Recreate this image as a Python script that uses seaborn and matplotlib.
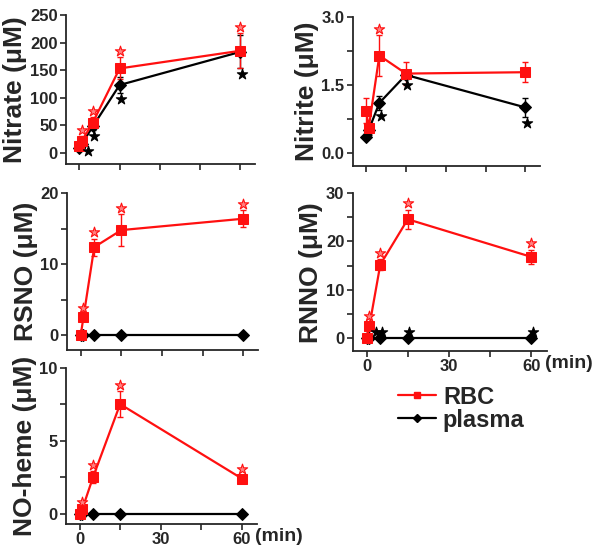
import numpy as np
import pandas as pd
import matplotlib
matplotlib.use('Agg')
import matplotlib.pyplot as plt
from matplotlib.lines import Line2D
import seaborn as sns

# sampling times (min)
time_min = [0, 1, 5, 15, 60]

# Nitrate (uM)
nitrate_rbc = [12, 22, 55, 153, 185]
nitrate_rbc_err = [4, 8, 10, 20, 32]
nitrate_plasma = [8, 17, 48, 123, 183]
nitrate_plasma_err = [3, 3, 6, 15, 30]
nitrate_rbc_sig = [0, 1, 1, 1, 1]
nitrate_plasma_sig = [0, 1, 1, 1, 1]

# Nitrite (uM)
nitrite_rbc = [0.93, 0.55, 2.15, 1.75, 1.78]
nitrite_rbc_err = [0.28, 0.12, 0.45, 0.25, 0.22]
nitrite_plasma = [0.35, 0.50, 1.10, 1.72, 1.00]
nitrite_plasma_err = [0.05, 0.10, 0.15, 0.10, 0.22]
nitrite_rbc_sig = [0, 0, 1, 0, 0]
nitrite_plasma_sig = [0, 0, 1, 1, 1]

# RSNO (uM)
rsno_rbc = [0, 2.5, 12.4, 14.8, 16.4]
rsno_rbc_err = [0.2, 0.5, 1.2, 2.2, 1.2]
rsno_plasma = [0, 0, 0, 0, 0]
rsno_plasma_err = [0, 0, 0, 0, 0]
rsno_rbc_sig = [0, 1, 1, 1, 1]
rsno_plasma_sig = [0, 0, 0, 0, 0]

# RNNO (uM)
rnno_rbc = [0, 2.4, 15.2, 24.6, 16.8]
rnno_rbc_err = [0.3, 0.8, 1.2, 2.0, 1.5]
rnno_plasma = [0, 0, 0, 0, 0]
rnno_plasma_err = [0, 0, 0, 0, 0]
rnno_rbc_sig = [0, 1, 1, 1, 1]
rnno_plasma_sig = [0, 1, 1, 1, 1]

# NO-heme (uM)
noheme_rbc = [0, 0.3, 2.5, 7.5, 2.4]
noheme_rbc_err = [0.05, 0.1, 0.4, 0.9, 0.2]
noheme_plasma = [0, 0, 0, 0, 0]
noheme_plasma_err = [0, 0, 0, 0, 0]
noheme_rbc_sig = [0, 1, 1, 1, 1]
noheme_plasma_sig = [0, 0, 0, 0, 0]

RED = '#ff1010'
BLACK = '#000000'

sns.set_theme(style='ticks')
plt.rcParams['font.family'] = ['Liberation Sans', 'DejaVu Sans']
plt.rcParams['axes.linewidth'] = 1.3


def draw_series(ax, vals, errs, color, marker, msize):
    df = pd.DataFrame({'time': time_min, 'value': vals})
    ax.errorbar(time_min, vals, yerr=errs, fmt='none', ecolor=color,
                elinewidth=1.0, capsize=2.5, capthick=1.0, zorder=2)
    sns.lineplot(data=df, x='time', y='value', color=color, marker=marker,
                 markersize=msize, markeredgecolor=color, markerfacecolor=color,
                 linewidth=1.6, ax=ax, zorder=3)


def draw_stars(ax, vals, errs, sig, side, color, face, pad, shift):
    xs, ys = [], []
    for t, v, e, s in zip(time_min, vals, errs, sig):
        if s:
            dx = 0
            if shift:
                dx = 2.3 if t < 3 else 0.6
            xs.append(t + dx)
            ys.append(v + side * (e + pad))
    ax.scatter(xs, ys, marker='*', s=60, facecolor=face, edgecolor=color,
               linewidth=0.8, zorder=4)


def panel(rect, rbc, rbc_err, plasma, plasma_err, rbc_sig, pl_sig, pl_side,
          ylim, yticks, ylabels, ylabel, show_x):
    ax = fig.add_axes(rect)
    draw_series(ax, plasma, plasma_err, BLACK, 'D', 6)
    draw_series(ax, rbc, rbc_err, RED, 's', 6.5)
    pad = 0.04 * (ylim[1] - ylim[0])
    draw_stars(ax, rbc, rbc_err, rbc_sig, 1, RED, '#ff8080', pad, False)
    draw_stars(ax, plasma, plasma_err, pl_sig, pl_side, BLACK, BLACK, pad, True)
    ax.set_xlim(-5, 65.5)
    ax.set_ylim(*ylim)
    ax.set_xticks([0, 15, 30, 45, 60])
    if show_x:
        ax.set_xticklabels(['0', '', '30', '', '60'])
    else:
        ax.set_xticklabels([])
    ax.set_yticks(yticks)
    ax.set_yticklabels(ylabels)
    ax.tick_params(direction='out', length=4, width=1.2, labelsize=12, pad=2)
    for lab in ax.get_xticklabels() + ax.get_yticklabels():
        lab.set_fontweight('bold')
    ax.set_xlabel('')
    ax.set_ylabel(ylabel, fontsize=19, fontweight='bold', labelpad=2)
    sns.despine(ax=ax)
    return ax


fig = plt.figure(figsize=(6, 5.52), dpi=100)

panel([0.110, 0.703, 0.315, 0.270], nitrate_rbc, nitrate_rbc_err,
      nitrate_plasma, nitrate_plasma_err, nitrate_rbc_sig, nitrate_plasma_sig, -1,
      (-20, 250), [0, 50, 100, 150, 200, 250],
      ['0', '50', '100', '150', '200', '250'], 'Nitrate (\u03bcM)', False)

panel([0.588, 0.699, 0.312, 0.270], nitrite_rbc, nitrite_rbc_err,
      nitrite_plasma, nitrite_plasma_err, nitrite_rbc_sig, nitrite_plasma_sig, -1,
      (-0.3, 3.0), [0, 0.75, 1.5, 2.25, 3.0],
      ['0.0', '', '1.5', '', '3.0'], 'Nitrite (\u03bcM)', False)

panel([0.112, 0.366, 0.318, 0.284], rsno_rbc, rsno_rbc_err,
      rsno_plasma, rsno_plasma_err, rsno_rbc_sig, rsno_plasma_sig, 1,
      (-2.1, 20), [0, 5, 10, 15, 20],
      ['0', '', '10', '', '20'], 'RSNO (\u03bcM)', False)

ax_rnno = panel([0.588, 0.364, 0.323, 0.286], rnno_rbc, rnno_rbc_err,
                rnno_plasma, rnno_plasma_err, rnno_rbc_sig, rnno_plasma_sig, 1,
                (-2.7, 30), [0, 5, 10, 15, 20, 25, 30],
                ['0', '', '10', '', '20', '', '30'], 'RNNO (\u03bcM)', True)

ax_noh = panel([0.110, 0.051, 0.318, 0.283], noheme_rbc, noheme_rbc_err,
               noheme_plasma, noheme_plasma_err, noheme_rbc_sig, noheme_plasma_sig, 1,
               (-0.7, 10), [0, 2.5, 5, 7.5, 10],
               ['0', '', '5', '', '10'], 'NO-heme (\u03bcM)', True)

for ax in (ax_rnno, ax_noh):
    ax.annotate('(min)', xy=(0.99, 0), xycoords='axes fraction',
                xytext=(0, -9), textcoords='offset points',
                ha='left', va='center', fontsize=14, fontweight='bold')

handles = [
    Line2D([], [], color=RED, marker='s', markersize=5, linewidth=1.6),
    Line2D([], [], color=BLACK, marker='D', markersize=4, linewidth=1.6),
]
fig.legend(handles, ['RBC', 'plasma'], loc='upper left',
           bbox_to_anchor=(0.628, 0.34), frameon=False, handlelength=1.6,
           handletextpad=0.3, labelspacing=0.0,
           prop={'size': 17, 'weight': 'bold'})

fig.savefig('out.png', dpi=100)
